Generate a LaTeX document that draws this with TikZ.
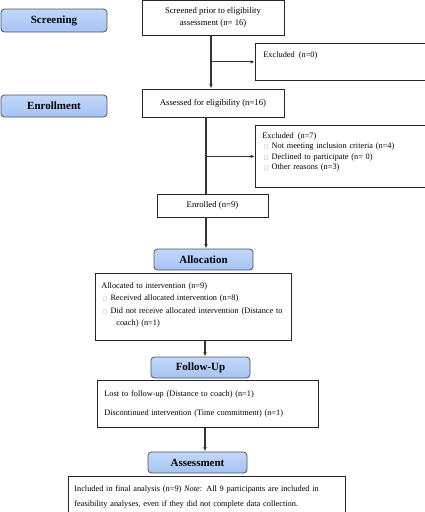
\documentclass[tikz,border=0pt]{standalone}
\usepackage{fontspec}
\setmainfont{Liberation Serif}
\newfontfamily\symfont{DejaVu Sans}
\usetikzlibrary{arrows.meta}
\definecolor{phasefill}{HTML}{A6C3F4}
\definecolor{phasetop}{HTML}{C3D7F9}
\definecolor{phaseline}{HTML}{4B5360}
\newcommand{\bul}{\hspace{1.5pt}{\color{black!40}\symfont\fontsize{5}{5}\selectfont\char"25A1}\hspace{3pt}}
\tikzset{
    phase/.style={draw=phaseline, line width=0.8, rounded corners=3.5, top color=phasetop, bottom color=phasefill, font=\bfseries\fontsize{11}{13}\selectfont, inner sep=0},
    box/.style={draw=black!85, line width=0.8, font=\fontsize{8.7}{12}\selectfont, inner sep=0},
    flow/.style={line width=1.1, draw=black!80, -{Latex[length=4.5,width=3.5]}},
}
\begin{document}
\begin{tikzpicture}[x=1pt, y=-1pt]
    \useasboundingbox (0,0) rectangle (425,512);
    \node[phase, minimum width=106, minimum height=23] (screening) at (54,20.5) {Screening};
    \node[phase, minimum width=106, minimum height=22] (enrollment) at (54,106) {Enrollment};
    \node[phase, minimum width=99, minimum height=21] (allocation) at (203.5,259.5) {Allocation};
    \node[phase, minimum width=99, minimum height=21] (followup) at (200.5,367.5) {Follow-Up};
    \node[phase, minimum width=99, minimum height=21] (assessment) at (197.5,462.5) {Assessment};
    \node[box, align=center, minimum width=142, minimum height=34.5] (screened) at (213,17.75) {Screened prior to eligibility\\assessment (n= 16)};
    \node[box, minimum width=142, minimum height=28] (assessed) at (213,103) {Assessed for eligibility (n=16)};
    \node[box, minimum width=111, minimum height=23] (enrolled) at (212.5,205.5) {Enrolled (n=9)};
    \node[box, anchor=north west, align=left, inner xsep=8, inner ysep=5, text width=153.5, text height=9, text depth=18, font=\fontsize{8.3}{10}\selectfont] (excl0) at (255,43) {Excluded\enspace(n=0)};
    \node[box, anchor=north west, align=left, inner xsep=7, inner ysep=4, text width=155.5, text height=9, text depth=45, font=\fontsize{8.3}{10.4}\selectfont] (excl7) at (255,125) {Excluded\enspace(n=7)\\\bul Not meeting inclusion criteria (n=4)\\\bul Declined to participate (n= 0)\\\bul Other reasons (n=3)};
    \node[box, anchor=north west, align=left, inner xsep=6, inner ysep=4, text width=184, text height=11, text depth=48, font=\fontsize{8.3}{12.3}\selectfont] (allocated) at (95,273) {Allocated to intervention (n=9)\\\bul Received allocated intervention (n=8)\\\bul Did not receive allocated intervention (Distance to\\\hspace{15pt}coach) (n=1)};
    \node[box, anchor=north west, align=left, inner xsep=7, inner ysep=4, text width=207, text height=12, text depth=27, font=\fontsize{8.3}{19}\selectfont] (lost) at (97,380) {Lost to follow-up (Distance to coach) (n=1)\\Discontinued intervention (Time commitment) (n=1)};
    \node[box, anchor=north west, align=left, inner xsep=6, inner ysep=4, text width=265, text height=11, text depth=16.5, font=\fontsize{8.3}{15}\selectfont] (included) at (68,476) {Included in final analysis (n=9) \textit{Note}: All 9 participants are included in\\feasibility analyses, even if they did not complete data collection.};
    \coordinate (c1) at (211,0);
    \coordinate (c2) at (206,0);
    \coordinate (c3) at (205,0);
    \draw[flow] (screened.south -| c1) -- (assessed.north -| c1);
    \draw[flow] (c1 |- excl0.west) -- (excl0.west);
    \draw[line width=1.1, draw=black!80] (assessed.south -| c2) -- (enrolled.north -| c2);
    \draw[flow] (c2 |- excl7.west) -- (excl7.west);
    \draw[flow] (enrolled.south -| c2) -- (allocation.north -| c2);
    \draw[flow] (allocated.south -| c3) -- (followup.north -| c3);
    \draw[flow] (lost.south -| c3) -- (assessment.north -| c3);
\end{tikzpicture}
\end{document}
